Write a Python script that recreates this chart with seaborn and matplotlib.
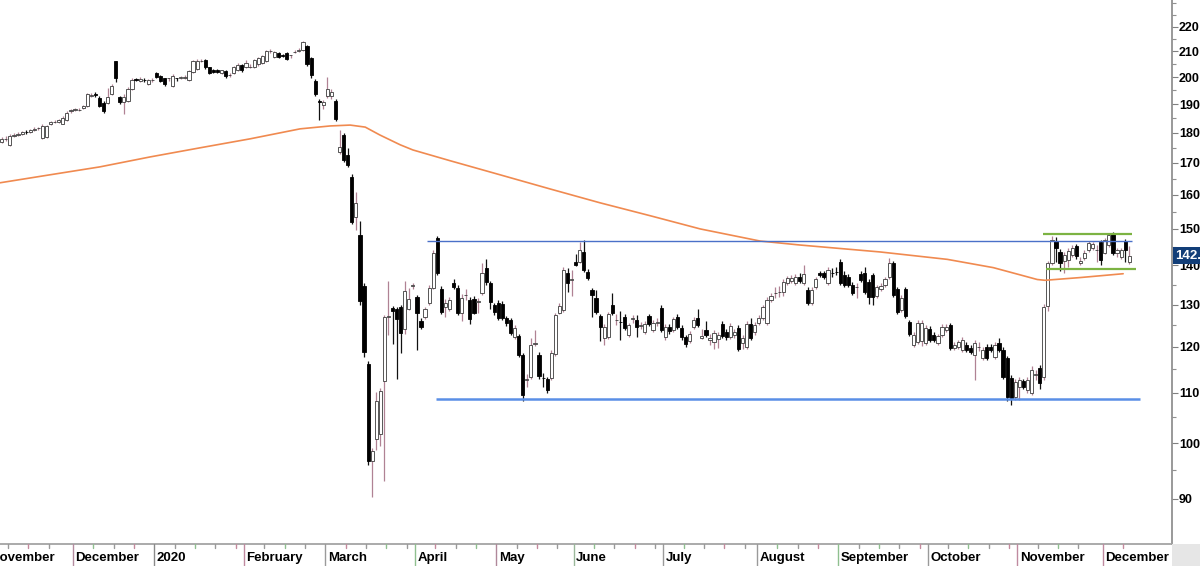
import numpy as np
import matplotlib
matplotlib.use("Agg")
import matplotlib.pyplot as plt
import matplotlib.transforms as mtransforms
from matplotlib.patches import Rectangle
from matplotlib.ticker import FixedLocator, NullFormatter
import seaborn as sns

# daily bars, Nov 2019 .. Dec 2020 (one line per month)
opens = [
    177.0, 177.8, 175.8, 179.0, 179.2, 179.6, 180.2, 180.3, 181.0, 181.5, 178.3, 178.6, 183.0, 183.5, 183.8, 183.0, 184.4, 187.6,
    187.9, 188.0, 188.6, 189.2, 193.0, 193.6, 192.3, 190.4, 190.4, 193.6, 206.0, 192.5, 190.7, 191.2, 195.6, 199.2, 198.6, 199.0, 197.5, 198.8,
    201.4, 200.3, 199.5, 199.5, 196.8, 199.6, 199.8, 199.8, 199.0, 201.8, 203.0, 206.2, 206.5, 203.7, 202.8, 202.8, 201.4, 202.2, 200.7, 201.4, 202.5, 204.5,
    203.7, 204.0, 204.0, 204.8, 205.5, 206.2, 210.0, 207.8, 209.4, 208.4, 209.2, 208.4, 209.8, 210.2, 210.6, 212.0, 207.3, 198.5, 191.0, 189.6,
    192.8, 192.8, 191.1, 173.4, 179.2, 172.7, 165.6, 153.3, 148.3, 134.6, 116.1, 96.7, 100.8, 101.8, 112.5, 126.9, 129.2, 129.0, 129.3, 124.0, 129.0, 134.6,
    131.9, 126.1, 127.0, 130.4, 134.2, 147.5, 133.9, 129.4, 129.0, 135.5, 134.2, 128.0, 132.4, 131.2, 131.4, 130.6, 132.9, 139.3, 135.5, 129.9,
    130.4, 130.2, 126.8, 126.3, 122.3, 122.5, 118.2, 112.7, 113.4, 120.6, 118.2, 113.2, 112.9, 113.2, 118.4, 128.0, 128.7, 138.0, 136.2,
    141.0, 141.0, 143.6, 138.3, 133.7, 131.7, 127.2, 122.1, 122.3, 129.9, 126.3, 125.8, 127.0, 122.8, 126.5, 126.3, 124.9, 123.5, 127.2, 123.9, 125.6, 129.2,
    122.3, 124.6, 123.9, 127.0, 124.4, 122.3, 121.4, 124.6, 126.8, 122.1, 123.9, 121.6, 121.1, 121.8, 125.3, 123.5, 122.3, 122.6, 124.4, 120.9, 120.0, 125.3, 123.4,
    125.6, 126.8, 125.6, 131.2, 132.9, 133.1, 133.2, 135.5, 135.9, 135.5, 137.0, 135.5, 133.7, 130.4, 134.4, 138.0, 138.0, 135.5, 138.1, 138.3,
    141.0, 137.5, 137.0, 134.9, 134.4, 137.8, 138.0, 135.7, 137.5, 132.2, 133.9, 134.9, 137.0, 140.6, 133.9, 128.7, 133.9, 125.8, 120.4, 121.1, 121.4, 120.9,
    124.2, 122.8, 120.9, 122.8, 123.9, 125.1, 119.8, 120.0, 119.3, 120.5, 119.8, 118.2, 120.0, 117.5, 120.0, 120.0, 117.7, 120.9, 119.3, 117.5, 113.2, 109.2,
    111.2, 112.5, 110.6, 110.0, 113.8, 115.3, 113.4, 129.6, 140.6, 146.6, 143.6, 141.2, 141.5, 142.8, 145.3, 140.6, 142.0, 144.2, 144.7, 144.2, 146.3,
    143.4, 145.5, 148.9, 143.4, 142.3, 146.6, 141.0,
]
highs = [
    178.5, 178.8, 179.6, 179.8, 180.2, 180.6, 181.0, 181.4, 181.8, 182.0, 182.8, 182.6, 184.0, 184.4, 184.6, 185.6, 187.4, 188.4,
    188.7, 188.6, 189.6, 194.2, 194.0, 194.4, 193.0, 191.0, 196.0, 197.4, 206.3, 193.0, 193.5, 196.2, 199.6, 199.8, 200.0, 199.6, 199.2, 199.5,
    201.8, 200.8, 199.8, 199.8, 201.0, 199.7, 200.4, 200.6, 202.8, 206.4, 206.8, 207.0, 207.0, 204.0, 203.2, 203.2, 202.8, 202.6, 201.4, 204.2, 205.2, 205.0,
    206.4, 204.8, 206.8, 207.8, 208.4, 210.4, 211.0, 210.2, 209.8, 209.0, 209.6, 208.6, 210.6, 211.4, 214.2, 212.6, 207.6, 199.4, 192.0, 191.4,
    199.9, 195.4, 192.0, 181.0, 179.8, 175.0, 166.4, 160.9, 152.4, 135.5, 116.8, 99.0, 110.2, 111.0, 127.5, 136.0, 129.6, 129.4, 130.0, 136.0, 134.0, 135.5,
    132.3, 126.6, 129.5, 134.8, 144.0, 148.0, 134.6, 131.4, 131.8, 136.4, 135.0, 132.6, 133.8, 131.8, 132.2, 131.6, 140.6, 141.6, 136.0, 130.4,
    131.0, 130.8, 127.2, 126.8, 125.0, 123.0, 118.6, 114.0, 122.0, 123.8, 118.8, 114.2, 113.4, 119.2, 128.0, 130.4, 139.6, 139.4, 138.8,
    143.0, 146.4, 146.9, 139.0, 134.2, 133.7, 127.6, 125.4, 128.2, 132.9, 127.6, 128.5, 127.6, 125.6, 127.4, 127.5, 125.8, 126.0, 127.8, 126.2, 126.8, 129.8,
    125.2, 125.2, 127.0, 127.6, 125.0, 122.8, 123.6, 127.0, 129.0, 124.0, 126.0, 123.0, 123.8, 123.4, 126.0, 124.0, 125.6, 124.2, 125.0, 122.6, 126.0, 126.6, 125.8,
    127.4, 130.0, 131.8, 132.8, 134.4, 134.6, 136.4, 137.3, 137.5, 137.8, 138.0, 140.0, 134.4, 134.3, 137.0, 138.6, 138.6, 139.5, 139.4, 139.6,
    141.6, 138.4, 137.6, 135.6, 135.4, 138.4, 139.6, 136.4, 138.0, 135.0, 135.3, 137.0, 142.0, 141.2, 134.5, 132.3, 134.5, 126.3, 123.4, 126.2, 126.2, 125.0,
    124.8, 123.4, 123.0, 125.2, 125.2, 125.6, 121.0, 121.6, 122.2, 121.0, 120.3, 121.5, 121.0, 119.9, 120.6, 120.6, 121.0, 122.0, 120.0, 118.0, 113.8, 112.9,
    113.4, 113.0, 113.3, 115.6, 114.8, 115.9, 130.2, 141.2, 148.0, 147.8, 144.4, 143.6, 144.6, 145.4, 145.8, 142.2, 144.0, 146.6, 146.4, 145.5, 146.9,
    147.5, 148.8, 149.2, 144.8, 144.8, 147.2, 145.2,
]
lows = [
    176.5, 177.2, 175.5, 178.5, 178.8, 179.2, 179.6, 180.0, 180.6, 180.8, 178.0, 178.2, 182.6, 183.2, 183.4, 182.8, 184.0, 187.0,
    187.4, 187.5, 188.3, 188.8, 192.6, 192.6, 188.8, 186.8, 190.0, 193.2, 198.0, 190.2, 186.6, 190.8, 195.2, 198.4, 198.2, 198.3, 197.0, 198.3,
    199.5, 198.0, 196.8, 198.5, 196.4, 198.6, 199.3, 199.3, 198.6, 201.4, 202.6, 205.6, 203.2, 201.0, 201.4, 201.5, 201.0, 199.8, 199.9, 201.0, 202.2, 202.0,
    203.3, 203.5, 203.6, 204.4, 205.0, 205.8, 209.4, 207.4, 207.2, 207.6, 206.6, 207.4, 209.2, 209.8, 210.2, 204.4, 199.8, 193.0, 184.4, 188.4,
    192.2, 192.0, 184.0, 172.8, 170.4, 168.8, 151.5, 149.8, 130.0, 117.6, 96.0, 90.3, 98.6, 99.5, 93.1, 122.8, 120.6, 112.9, 118.6, 123.0, 128.6, 133.8,
    119.3, 124.0, 126.5, 130.0, 133.8, 137.4, 127.6, 127.0, 128.5, 133.8, 127.4, 126.0, 131.0, 125.4, 127.6, 128.0, 132.4, 135.0, 129.0, 127.4,
    126.2, 126.2, 124.8, 122.6, 121.8, 117.6, 108.2, 111.2, 113.0, 120.2, 113.0, 111.2, 110.0, 112.6, 118.0, 127.6, 128.2, 133.0, 132.0,
    139.8, 140.6, 138.3, 136.2, 127.0, 127.6, 121.4, 120.4, 121.8, 127.5, 125.0, 121.6, 123.8, 122.2, 125.5, 122.2, 124.2, 123.0, 124.8, 123.4, 124.8, 123.4,
    121.6, 123.0, 123.4, 124.0, 121.6, 120.0, 120.8, 124.0, 124.6, 121.8, 122.2, 120.4, 119.6, 119.8, 122.0, 121.6, 121.8, 122.0, 119.0, 119.4, 119.5, 121.6, 122.8,
    125.0, 126.3, 125.0, 130.6, 131.6, 131.8, 132.0, 135.0, 135.4, 135.0, 135.5, 135.0, 129.8, 130.0, 133.9, 137.0, 136.5, 135.0, 137.0, 137.4,
    134.9, 134.4, 134.3, 132.3, 131.6, 135.6, 132.6, 130.2, 129.8, 131.6, 133.4, 134.4, 136.5, 131.8, 127.7, 128.2, 126.7, 122.4, 120.0, 120.6, 120.2, 120.4,
    121.0, 121.0, 120.4, 122.2, 123.4, 119.2, 119.3, 119.5, 118.8, 118.8, 118.4, 112.7, 119.0, 117.0, 117.0, 118.8, 117.2, 118.8, 112.9, 108.3, 107.5, 108.4,
    108.5, 110.7, 110.0, 109.6, 112.6, 110.8, 112.6, 128.5, 140.0, 140.8, 138.6, 138.0, 139.6, 142.2, 141.8, 140.0, 141.4, 143.6, 144.2, 141.0, 140.2,
    143.0, 145.0, 142.8, 142.2, 141.8, 141.0, 140.4,
]
closes = [
    177.8, 178.0, 179.0, 179.3, 179.6, 180.2, 180.1, 181.0, 181.2, 181.6, 182.4, 182.2, 183.6, 183.8, 184.2, 185.2, 187.0, 187.9,
    188.1, 188.0, 189.4, 193.6, 193.4, 193.2, 189.3, 187.6, 192.4, 196.8, 199.5, 190.7, 192.4, 195.6, 199.0, 198.8, 199.3, 198.9, 198.8, 199.0,
    199.9, 198.5, 197.5, 199.6, 200.5, 199.5, 199.9, 200.0, 202.2, 206.0, 206.3, 206.3, 203.7, 201.4, 201.8, 201.8, 202.5, 200.3, 200.7, 203.7, 204.5, 202.5,
    205.2, 204.0, 206.4, 207.2, 208.0, 210.0, 210.1, 209.6, 207.6, 208.3, 207.0, 208.5, 209.8, 210.6, 213.6, 204.9, 200.6, 193.6, 190.6, 190.8,
    195.6, 194.4, 184.7, 175.3, 171.0, 169.4, 152.1, 157.6, 130.8, 118.8, 96.7, 98.5, 108.3, 110.4, 126.9, 127.1, 128.4, 126.4, 123.1, 133.3, 131.3, 135.0,
    127.9, 124.5, 129.0, 134.2, 143.4, 138.0, 128.2, 130.4, 131.2, 134.4, 128.0, 131.7, 132.4, 126.5, 128.0, 130.8, 138.0, 135.7, 130.5, 128.2,
    126.8, 126.8, 125.6, 123.2, 124.4, 118.2, 109.6, 112.8, 120.5, 120.9, 113.6, 113.1, 110.6, 118.6, 127.5, 129.7, 138.8, 135.5, 136.4,
    140.2, 144.2, 138.8, 136.7, 132.4, 128.2, 124.6, 124.6, 127.7, 128.0, 126.3, 125.7, 124.4, 125.1, 126.6, 124.6, 125.1, 125.3, 125.3, 125.6, 125.8, 123.9,
    124.6, 123.7, 126.5, 124.6, 122.3, 120.7, 123.0, 126.3, 125.1, 122.5, 122.8, 122.1, 123.2, 122.8, 122.5, 122.3, 124.8, 123.5, 119.5, 122.1, 125.3, 122.1, 125.1,
    126.8, 129.4, 131.2, 132.2, 132.9, 133.2, 135.7, 136.7, 136.8, 137.0, 135.9, 137.8, 130.4, 133.7, 136.4, 137.5, 137.0, 138.8, 138.0, 138.2,
    135.5, 134.9, 134.9, 132.9, 134.4, 136.2, 133.2, 131.9, 131.9, 134.4, 134.7, 136.4, 140.6, 132.4, 128.2, 131.7, 127.2, 123.0, 122.8, 125.6, 125.6, 124.4,
    121.6, 121.6, 122.5, 124.6, 124.6, 119.8, 120.5, 121.1, 121.6, 119.3, 118.9, 120.9, 120.0, 119.3, 117.5, 119.3, 120.5, 119.3, 113.4, 109.2, 109.0, 112.3,
    112.7, 111.2, 112.7, 114.9, 113.9, 112.1, 129.4, 140.6, 146.9, 144.6, 140.6, 142.8, 143.9, 144.7, 142.5, 141.2, 143.4, 146.1, 145.8, 144.2, 141.5,
    146.9, 148.3, 143.4, 144.2, 144.2, 144.2, 142.6,
]

month_labels = ["November", "December", "2020", "February", "March", "April", "May",
                "June", "July", "August", "September", "October", "November", "December"]
month_bars = [18, 20, 22, 20, 22, 20, 19, 22, 23, 20, 22, 22, 21, 7]
nov19_hidden_bars = 3  # first days of Nov 2019 are left of the window

# 200-day average, read at some bars
ma_bar = [-0.4, 11.9, 24.1, 36.4, 48.7, 61.0, 73.3, 80.7, 85.6, 89.3, 92.9, 97.9, 101.0,
          110.1, 122.4, 134.7, 147.0, 159.3, 171.6, 186.3, 196.1, 215.8, 232.3, 243.6,
          250.2, 254.4, 256.3, 264.9, 275.5]
ma_val = [163.7, 166.2, 168.7, 171.9, 174.9, 177.9, 181.3, 182.3, 182.6, 181.9, 179.2, 175.9,
          174.2, 170.7, 166.2, 161.8, 157.6, 153.8, 150.0, 146.6, 145.5, 143.6, 141.6, 139.4,
          137.5, 136.3, 136.1, 136.8, 137.8]

# drawn lines: resistance, support, channel top, channel bottom
line_level = [146.6, 108.8, 148.7, 139.0]
line_from = [104.5, 106.7, 255.8, 256.6]
line_to = [277.7, 279.7, 277.7, 278.7]

y_ticks = [90, 100, 110, 120, 130, 140, 150, 160, 170, 180, 190, 200, 210, 220]
last_price = "142.60"

sns.set_theme(style="white")
plt.rcParams['font.family'] = ['Liberation Sans', 'DejaVu Sans']

o = np.array(opens); h = np.array(highs); l = np.array(lows); c = np.array(closes)
x = np.arange(len(c))
up = c >= o

fig = plt.figure(figsize=(12, 5.66), dpi=100)
ax = fig.add_axes([0, 22 / 566, 1172 / 1200, 544 / 566])
ax.set_yscale('log')

ax.vlines(x, l, h, colors=np.where(up, '#b08294', '#111111'), lw=0.9, zorder=2)
ax.bar(x, np.abs(c - o), bottom=np.minimum(o, c), width=0.78,
       color=np.where(up, 'white', 'black'), edgecolor=np.where(up, '#3c3c3c', 'black'),
       linewidth=0.6, zorder=3)

sns.lineplot(x=ma_bar, y=ma_val, ax=ax, color='#f08a50', lw=1.2, sort=False,
             estimator=None, zorder=4)

styles = [('#4a70c8', 1.0), ('#5a8fe6', 1.8), ('#7cb342', 1.6), ('#7cb342', 1.6)]
for lev, a, b, (col, lw) in zip(line_level, line_from, line_to, styles):
    ax.hlines(lev, a, b, color=col, lw=lw, zorder=5)

ax.set_xlim(-0.43, 287.5)
ax.set_ylim(82.6, 231.4)
ax.set_xticks([])
ax.yaxis.tick_right()
ax.yaxis.set_major_locator(FixedLocator(y_ticks))
ax.set_yticklabels([str(t) for t in y_ticks])
ax.yaxis.set_minor_locator(FixedLocator([t + 5 for t in y_ticks] + [230]))
ax.yaxis.set_minor_formatter(NullFormatter())
ax.tick_params(axis='y', which='major', length=4, width=0.8, color='#808080', pad=1,
               labelsize=9, labelcolor='black')
ax.tick_params(axis='y', which='minor', length=3, width=0.8, color='#909090')
for lab in ax.get_yticklabels():
    lab.set_fontweight('bold')
for side in ['left', 'top']:
    ax.spines[side].set_visible(False)
ax.spines['right'].set_color('#8c8c8c')
ax.spines['bottom'].set_color('#a0a0a0')

tr = mtransforms.blended_transform_factory(ax.transAxes, ax.transData)
ax.text(1.003, 142.6, last_price, transform=tr, ha='left', va='center', color='white',
        fontsize=9.5, fontweight='bold', clip_on=False, zorder=10,
        bbox=dict(boxstyle='square,pad=0.2', fc='#123e78', ec='none'))

# month strip
axb = fig.add_axes([0, 0, 1172 / 1200, 22 / 566])
axb.set_xlim(ax.get_xlim()); axb.set_ylim(0, 1)
axb.set_xticks([]); axb.set_yticks([])
for s in axb.spines.values():
    s.set_visible(False)
axb.patch.set_alpha(0)
sep_cols = ['#8a8a8a', '#b58ca0', '#8a8a8a', '#c08aa0', '#9a9a9a', '#8fc08f', '#b0889a',
            '#9ab89a', '#9a9a9a', '#9a9a9a', '#8fc08f', '#9a9a9a', '#c08aa0', '#c08aa0']
tick_cols = ['#9a9a9a', '#c48a9e', '#9a9a9a', '#8fbf8f']
starts = np.concatenate([[-nov19_hidden_bars], np.cumsum(month_bars)[:-1]])
ends = np.cumsum(month_bars)
n = 0
for i, (lab, s0, e0) in enumerate(zip(month_labels, starts, ends)):
    xs = s0 - 0.5
    axb.axvline(xs, 0, 1, color=sep_cols[i], lw=1.0)
    axb.text(xs + 0.6, 0.36, lab, ha='left', va='center', fontsize=9.5,
             fontweight='bold', color='black')
    for k in range(int(s0) + 5, int(e0) - 1, 5):
        axb.axvline(k - 0.5, 0.8, 1, color=tick_cols[n % 4], lw=1.0)
        n += 1

fig.patches.append(Rectangle((1172 / 1200, 0), 28 / 1200, 22 / 566, transform=fig.transFigure,
                             fc='#e6e6e6', ec='none'))

fig.savefig('out.png', dpi=100)
